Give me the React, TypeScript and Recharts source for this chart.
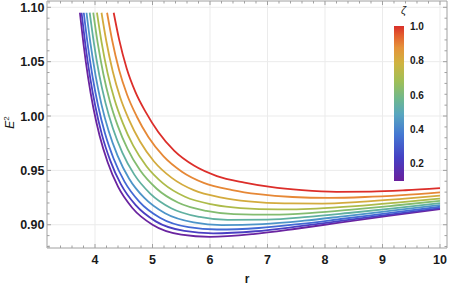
import { LineChart, Line, XAxis, YAxis, CartesianGrid, ReferenceLine } from 'recharts';

// E^2 vs r for ζ = 0.1 ... 1.0, points as [r, E^2]
const zeta01 = [[3.737, 1.095], [3.8, 1.066], [3.88, 1.0353], [3.97, 1.0078], [4.08, 0.9818], [4.22, 0.9575], [4.4, 0.935], [4.65, 0.9154], [5.0, 0.9], [5.5, 0.8909], [6.0, 0.8889], [6.75, 0.8914], [7.5, 0.8963], [8.25, 0.9019], [9.1, 0.9081], [10, 0.9143]];
const zeta02 = [[3.766, 1.095], [3.831, 1.0662], [3.914, 1.0357], [4.007, 1.0085], [4.12, 0.9829], [4.264, 0.9592], [4.449, 0.9373], [4.704, 0.9182], [5.056, 0.9031], [5.555, 0.8943], [6.053, 0.8921], [6.793, 0.894], [7.535, 0.8984], [8.278, 0.9035], [9.115, 0.9093], [10, 0.9153]];
const zeta03 = [[3.805, 1.095], [3.871, 1.0665], [3.957, 1.0363], [4.054, 1.0095], [4.172, 0.9843], [4.321, 0.9612], [4.513, 0.9397], [4.773, 0.9211], [5.129, 0.9065], [5.627, 0.8978], [6.121, 0.8956], [6.848, 0.897], [7.581, 0.9008], [8.313, 0.9055], [9.135, 0.9109], [10, 0.9165]];
const zeta04 = [[3.852, 1.095], [3.921, 1.0668], [4.011, 1.037], [4.112, 1.0107], [4.236, 0.9864], [4.392, 0.9636], [4.591, 0.9426], [4.859, 0.9246], [5.218, 0.9105], [5.715, 0.9021], [6.205, 0.8997], [6.916, 0.9006], [7.637, 0.9037], [8.357, 0.908], [9.159, 0.9129], [10, 0.9181]];
const zeta05 = [[3.908, 1.095], [3.98, 1.0672], [4.074, 1.0378], [4.182, 1.0121], [4.312, 0.9885], [4.475, 0.9664], [4.684, 0.9461], [4.96, 0.9287], [5.325, 0.9152], [5.819, 0.9072], [6.305, 0.9045], [6.997, 0.9047], [7.703, 0.9072], [8.41, 0.9108], [9.187, 0.9151], [10, 0.9199]];
const zeta06 = [[3.969, 1.095], [4.045, 1.0677], [4.145, 1.0387], [4.258, 1.0136], [4.396, 0.9909], [4.568, 0.9695], [4.787, 0.9498], [5.073, 0.9331], [5.442, 0.9204], [5.935, 0.9127], [6.415, 0.9098], [7.086, 0.9093], [7.777, 0.9109], [8.467, 0.9139], [9.219, 0.9177], [10, 0.9219]];
const zeta07 = [[4.034, 1.095], [4.113, 1.0682], [4.218, 1.0397], [4.339, 1.0152], [4.484, 0.9934], [4.664, 0.9727], [4.895, 0.9538], [5.19, 0.9378], [5.566, 0.9257], [6.056, 0.9185], [6.53, 0.9153], [7.179, 0.9141], [7.854, 0.9149], [8.528, 0.9171], [9.252, 0.9203], [10, 0.924]];
const zeta08 = [[4.113, 1.095], [4.197, 1.0688], [4.309, 1.0409], [4.437, 1.0172], [4.592, 0.9964], [4.783, 0.9765], [5.027, 0.9582], [5.335, 0.9431], [5.717, 0.9318], [6.204, 0.925], [6.672, 0.9215], [7.294, 0.9196], [7.948, 0.9195], [8.602, 0.921], [9.292, 0.9235], [10, 0.9267]];
const zeta09 = [[4.21, 1.095], [4.299, 1.0695], [4.419, 1.0423], [4.558, 1.0196], [4.724, 0.9998], [4.928, 0.9807], [5.189, 0.9631], [5.511, 0.9488], [5.902, 0.9383], [6.386, 0.9319], [6.845, 0.9281], [7.434, 0.9255], [8.064, 0.9247], [8.693, 0.9255], [9.342, 0.9273], [10, 0.9298]];
const zeta10 = [[4.325, 1.095], [4.42, 1.0703], [4.55, 1.044], [4.7, 1.0225], [4.88, 1.0038], [5.1, 0.9853], [5.38, 0.9679], [5.72, 0.9544], [6.12, 0.9448], [6.6, 0.9388], [7.05, 0.9348], [7.6, 0.9318], [8.2, 0.9303], [8.8, 0.9305], [9.4, 0.9317], [10, 0.9336]];

const ZETA_CURVES = [zeta01, zeta02, zeta03, zeta04, zeta05, zeta06, zeta07, zeta08, zeta09, zeta10];
const ZETA_COLORS = ['#6a24a0', '#4a3fc2', '#4369d4', '#4d94c8', '#60b0a0', '#83bc70', '#adbb4a', '#d3ab3e', '#e68836', '#dc2e2a'];

const X_TICKS = [4, 5, 6, 7, 8, 9, 10];
const Y_TICKS = [0.9, 0.95, 1.0, 1.05, 1.1];
const BAR_LABELS = ['1.0', '0.8', '0.6', '0.4', '0.2'];

const X_DOMAIN = [3.165, 10.122];
const Y_DOMAIN = [0.8786, 1.1058];

const FRAME = '#a0a0a0';
const GRID = '#ebebeb';
const TEXT = '#1a1a1a';
const FONT = '"Liberation Sans", Arial, sans-serif';
const PLOT_TOP = 1;
const PLOT_RIGHT = 447;

// minor ticks every 0.2 in r and every 0.01 in E^2
const xAll: number[] = [];
for (let i = 32; i <= 100; i += 2) xAll.push(i / 10);
const yAll: number[] = [];
for (let i = 88; i <= 110; i++) yAll.push(i / 100);

const XTick = ({ x, y, payload }: any) => {
  const major = X_TICKS.includes(payload.value);
  const len = major ? 4 : 2.5;
  return (
    <g>
      <line x1={x} y1={y} x2={x} y2={y - len} stroke={FRAME} />
      <line x1={x} y1={PLOT_TOP} x2={x} y2={PLOT_TOP + len} stroke={FRAME} />
      {major && (
        <text x={x} y={y + 16} textAnchor="middle" fontSize={12.5} fontWeight="bold" fill={TEXT} fontFamily={FONT}>
          {payload.value}
        </text>
      )}
    </g>
  );
};

const YTick = ({ x, y, payload }: any) => {
  const major = Math.round(payload.value * 100) % 5 === 0;
  const len = major ? 4 : 2.5;
  return (
    <g>
      <line x1={x} y1={y} x2={x + len} y2={y} stroke={FRAME} />
      <line x1={PLOT_RIGHT - len} y1={y} x2={PLOT_RIGHT} y2={y} stroke={FRAME} />
      {major && (
        <text x={x - 2.5} y={y + 4.5} textAnchor="end" fontSize={12.5} fontWeight="bold" fill={TEXT} fontFamily={FONT}>
          {payload.value.toFixed(2)}
        </text>
      )}
    </g>
  );
};

const EnergyLabel = ({ viewBox }: any) => {
  const cx = 14;
  const cy = viewBox.y + viewBox.height / 2 - 2;
  return (
    <text transform={`translate(${cx},${cy}) rotate(-90)`} textAnchor="middle" fontSize={12} fill={TEXT} fontFamily={FONT}>
      <tspan fontStyle="italic">E</tspan>
      <tspan fontSize={8} dy={-5}>2</tspan>
    </text>
  );
};

export default function App() {
  return (
    <div style={{ position: 'absolute', left: 0, top: 0, width: 449, height: 286, background: '#fff' }}>
      <LineChart width={449} height={286} margin={{ top: 1, right: 2, bottom: 0, left: 0 }}>
        <CartesianGrid stroke={GRID} verticalValues={X_TICKS} horizontalValues={Y_TICKS} />
        <XAxis
          type="number"
          dataKey="r"
          domain={X_DOMAIN}
          allowDataOverflow
          ticks={xAll}
          interval={0}
          height={38}
          tickSize={0}
          tickMargin={0}
          tickLine={false}
          axisLine={{ stroke: FRAME }}
          tick={<XTick />}
          label={{ value: 'r', position: 'insideBottom', offset: 3, fontSize: 12, fontWeight: 'bold', fill: TEXT, fontFamily: FONT }}
        />
        <YAxis
          type="number"
          domain={Y_DOMAIN}
          allowDataOverflow
          ticks={yAll}
          interval={0}
          width={47}
          tickSize={0}
          tickMargin={0}
          tickLine={false}
          axisLine={{ stroke: FRAME }}
          tick={<YTick />}
          label={{ content: EnergyLabel }}
        />
        <ReferenceLine y={Y_DOMAIN[1]} stroke={FRAME} ifOverflow="visible" />
        <ReferenceLine x={X_DOMAIN[1]} stroke={FRAME} ifOverflow="visible" />
        {ZETA_CURVES.map((curve, i) => (
          <Line
            key={i}
            data={curve.map(([r, e]) => ({ r, e }))}
            dataKey="e"
            type="monotone"
            stroke={ZETA_COLORS[i]}
            strokeWidth={1.8}
            dot={false}
            isAnimationActive={false}
          />
        ))}
      </LineChart>

      {/* colour bar legend */}
      <div style={{ position: 'absolute', left: 401, top: 4, fontSize: 11, fontStyle: 'italic', fontFamily: FONT, color: TEXT }}>ζ</div>
      <div
        style={{
          position: 'absolute',
          left: 394,
          top: 26,
          width: 10,
          height: 155,
          background:
            'linear-gradient(to top, #6a1f9c 0%, #4540c4 15%, #4478d2 30%, #58a6bf 43%, #6fb88e 53%, #9ebf58 64%, #cfb340 76%, #e5933a 86%, #e35e2e 94%, #d9302a 100%)',
        }}
      />
      {BAR_LABELS.map((lab, i) => (
        <div
          key={lab}
          style={{
            position: 'absolute',
            left: 410,
            top: 26.7 + i * 34.4 - 7,
            fontSize: 10,
            lineHeight: '14px',
            fontWeight: 'bold',
            fontFamily: FONT,
            color: TEXT,
          }}
        >
          {lab}
        </div>
      ))}
    </div>
  );
}
